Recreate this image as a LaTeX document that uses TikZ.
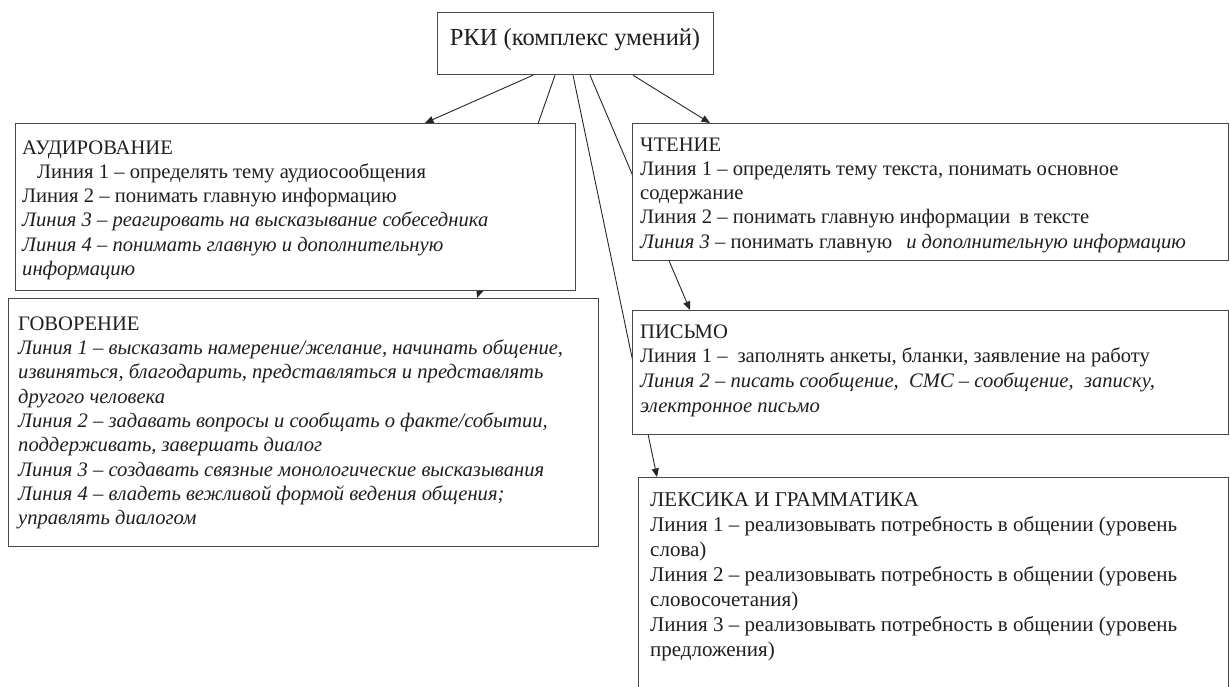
\documentclass[tikz,border=0pt]{standalone}
\usepackage{fontspec}
\setmainfont{Liberation Serif}
\usetikzlibrary{arrows.meta,backgrounds}
\begin{document}
\begin{tikzpicture}[x=1pt,y=-1pt,
  box/.style={draw=black!72, line width=1.2pt, fill=white, anchor=north west, inner sep=0pt},
  txt/.style={anchor=north west, inner sep=0pt, align=left, text=black!88,
              font={\fontsize{20.6}{24.2}\selectfont}},
  conn/.style={draw=black!85, line width=0.9pt},
  arr/.style={conn, -{Triangle[length=8.5pt,width=7pt]}},
]
\useasboundingbox (0,0) rectangle (1230,686);
\clip (0,0) rectangle (1230,686);

% boxes
\node[box, minimum width=276pt, minimum height=62pt] (top) at (437,12) {};
\node[box, minimum width=560pt, minimum height=167pt] (aud) at (15,123) {};
\node[box, minimum width=590pt, minimum height=248pt] (gov) at (8,298) {};
\node[box, minimum width=596pt, minimum height=137pt] (cht) at (632,123) {};
\node[box, minimum width=596pt, minimum height=124pt] (pis) at (632,310) {};
\node[box, minimum width=590pt, minimum height=240pt] (lex) at (638,477) {};

% texts
\node[anchor=base, inner sep=0pt, text=black!88, font={\fontsize{24.5}{28}\selectfont}] (topt) at (575,45) {РКИ (комплекс умений)};

\node[txt] (audt) at (22,138) {\rule{0pt}{16pt}АУДИРОВАНИЕ\\
\hspace{15pt}Линия 1 – определять тему аудиосообщения\\
Линия 2 – понимать главную информацию\\
\textit{Линия 3 – реагировать на высказывание собеседника}\\
\textit{Линия 4 – понимать главную и дополнительную}\\
\textit{информацию}};

\node[txt] (chtt) at (640,135) {\rule{0pt}{16pt}ЧТЕНИЕ\\
Линия 1 – определять тему текста, понимать основное\\
содержание\\
Линия 2 – понимать главную информации\hspace{9pt}в тексте\\
\textit{Линия 3} – понимать главную\hspace{14pt}\textit{и дополнительную информацию}};

\node[txt, font={\fontsize{20.6}{24.3}\selectfont}] (govt) at (18,314) {\rule{0pt}{16pt}ГОВОРЕНИЕ\\
\textit{Линия 1 – высказать намерение/желание, начинать общение,}\\
\textit{извиняться, благодарить, представляться и представлять}\\
\textit{другого человека}\\
\textit{Линия 2 – задавать вопросы и сообщать о факте/событии,}\\
\textit{поддерживать, завершать диалог}\\
\textit{Линия 3 – создавать связные монологические высказывания}\\
\textit{Линия 4 – владеть вежливой формой ведения общения;}\\
\textit{управлять диалогом}};

\node[txt, font={\fontsize{20.6}{24.6}\selectfont}] (pist) at (640,322) {\rule{0pt}{16pt}ПИСЬМО\\
Линия 1 –\hspace{10pt}заполнять анкеты, бланки, заявление на работу\\
\textit{Линия 2 – писать сообщение,\ \ СМС – сообщение,\ \ записку,}\\
\textit{электронное письмо}};

\node[txt, font={\fontsize{21}{25}\selectfont}] (lext) at (650,490) {\rule{0pt}{16pt}ЛЕКСИКА И ГРАММАТИКА\\
Линия 1 – реализовывать потребность в общении (уровень\\
слова)\\
Линия 2 – реализовывать потребность в общении (уровень\\
словосочетания)\\
Линия 3 – реализовывать потребность в общении (уровень\\
предложения)};

% connectors passing behind boxes
\begin{scope}[on background layer]
\draw[arr] ([xshift=118pt]top.south west) -- ([xshift=469pt]gov.north west);
\draw[arr] ([xshift=136pt]top.south west) -- ([xshift=19pt]lex.north west);
\draw[arr] ([xshift=153pt]top.south west) -- ([xshift=58pt]pis.north west);
\end{scope}
% connectors in front
\draw[arr] ([xshift=96pt]top.south west) -- ([xshift=410pt]aud.north west);
\draw[arr] ([xshift=196pt]top.south west) -- ([xshift=78pt]cht.north west);
\end{tikzpicture}
\end{document}
